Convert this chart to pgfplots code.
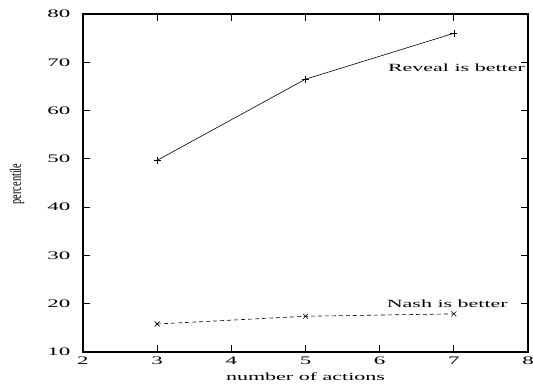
\documentclass[border=0pt]{standalone}
\usepackage{fontspec}
\setmainfont{Liberation Serif}
\newfontfamily\wide[FakeStretch=2.0]{Liberation Serif}
\newfontfamily\narrow[FakeStretch=0.65]{Liberation Serif}
\usepackage{pgfplots}
\pgfplotsset{compat=1.18}
\begin{document}
\begin{tikzpicture}
\useasboundingbox (-83bp,-37bp) rectangle (450bp,352bp);
\begin{axis}[
  scale only axis,
  width=445bp, height=338bp,
  xmin=2, xmax=8, ymin=10, ymax=80,
  xtick={2,3,4,5,6,7,8},
  ytick={10,20,30,40,50,60,70,80},
  tick align=inside,
  major tick length=7bp,
  axis line style={line width=1.3bp},
  every tick/.style={black, line width=0.9bp},
  /pgf/number format/assume math mode=true,
  tick label style={font=\wide\fontsize{11.5bp}{13bp}\selectfont},
  yticklabel style={xshift=-9bp},
  xticklabel style={yshift=-1bp},
  xlabel={number of actions},
  every axis x label/.style={font=\wide\fontsize{11bp}{13bp}\selectfont, at={(axis description cs:0.5,0)}, anchor=north, yshift=-17bp},
  ylabel={percentile},
  every axis y label/.style={font=\narrow\fontsize{16bp}{17bp}\selectfont, at={(axis description cs:-0.148,0.497)}, anchor=center, rotate=90},
  clip=false,
]
\addplot[black, line width=0.6bp, mark=+, mark size=3.5bp, mark options={solid}] coordinates {(3,49.7) (5,66.5) (7,76)};
\addplot[black, line width=0.6bp, dash pattern=on 4bp off 3bp, mark=x, mark size=3.5bp, mark options={solid}] coordinates {(3,15.8) (5,17.4) (7,17.9)};
\node[anchor=east, font=\wide\fontsize{11bp}{13bp}\selectfont, inner sep=0pt] at (axis cs:7.96,68.8) {Reveal is better};
\node[anchor=east, font=\wide\fontsize{11bp}{13bp}\selectfont, inner sep=0pt] at (axis cs:7.73,19.9) {Nash is better};
\end{axis}
\end{tikzpicture}
\end{document}
